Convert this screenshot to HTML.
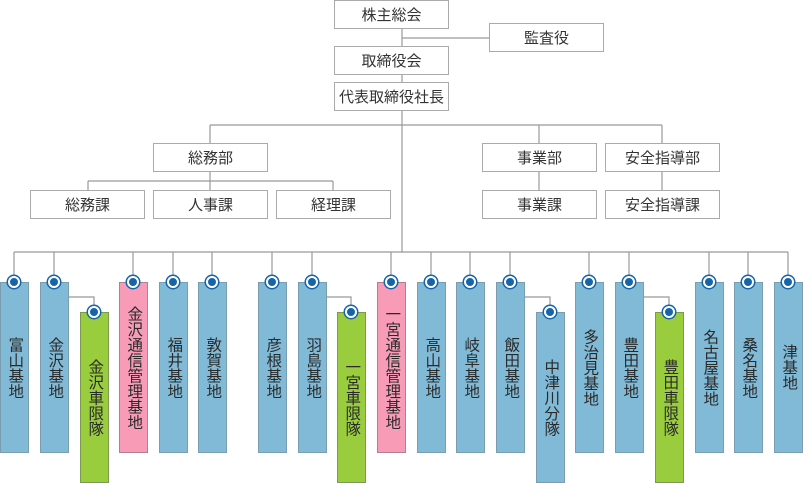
<!DOCTYPE html>
<html><head><meta charset="utf-8"><style>
body{margin:0;width:803px;height:483px;background:#fff;position:relative;overflow:hidden;font-family:"Liberation Sans","Noto Sans CJK JP",sans-serif;color:#333}
.b{position:absolute;box-sizing:border-box;border:1px solid #aaa;background:#fff;height:29px;width:115px;font-size:15px;display:flex;align-items:center;justify-content:center}
.v{position:absolute;box-sizing:border-box;width:29px;height:171px;border:1px solid #7a9db0;display:flex;align-items:center;justify-content:center;font-size:15.5px;writing-mode:vertical-rl;color:#2a2a2a;line-height:1}
.bl{background:#80bad7}.pk{background:#f79bb7;border-color:#b08090}.gr{background:#9acd3e;border-color:#7a9a50}
.c{position:absolute;width:8px;height:8px;border-radius:50%;background:#1565a8;border:2px solid #fff;box-shadow:0 0 0 1.5px #1565a8}
svg{position:absolute;left:0;top:0}
</style></head><body>
<svg width="803" height="483"><g stroke="#999" stroke-width="1.2" fill="none">
<path d="M402 28V46M402 38H489M402 75V82M402 111V252M210 125H662M210 125V143M539 125V143M662 125V143M210 172V181M88 181H333M88 181V190M210 181V190M333 181V190M539 172V190M662 172V190M14 252H788"/>
<path d="M14 252V282M54 252V282M133 252V282M173 252V282M212 252V282M272 252V282M312 252V282M391 252V282M431 252V282M470 252V282M510 252V282M589 252V282M629 252V282M709 252V282M748 252V282M788 252V282"/>
<path d="M68 297H94V312M326 297H351V312M524 297H550V312M643 297H669V312"/>
</g></svg>
<div class="b" style="left:334px;top:0">株主総会</div>
<div class="b" style="left:489px;top:23px">監査役</div>
<div class="b" style="left:334px;top:46px">取締役会</div>
<div class="b" style="left:334px;top:82px">代表取締役社長</div>
<div class="b" style="left:153px;top:143px">総務部</div>
<div class="b" style="left:482px;top:143px">事業部</div>
<div class="b" style="left:605px;top:143px">安全指導部</div>
<div class="b" style="left:30px;top:190px">総務課</div>
<div class="b" style="left:153px;top:190px">人事課</div>
<div class="b" style="left:276px;top:190px">経理課</div>
<div class="b" style="left:482px;top:190px">事業課</div>
<div class="b" style="left:605px;top:190px">安全指導課</div>

<div class="v bl" style="left:0;top:282px">富山基地</div>
<div class="v bl" style="left:40px;top:282px">金沢基地</div>
<div class="v gr" style="left:80px;top:312px">金沢車限隊</div>
<div class="v pk" style="left:119px;top:282px">金沢通信管理基地</div>
<div class="v bl" style="left:159px;top:282px">福井基地</div>
<div class="v bl" style="left:198px;top:282px">敦賀基地</div>
<div class="v bl" style="left:258px;top:282px">彦根基地</div>
<div class="v bl" style="left:298px;top:282px">羽島基地</div>
<div class="v gr" style="left:337px;top:312px">一宮車限隊</div>
<div class="v pk" style="left:377px;top:282px">一宮通信管理基地</div>
<div class="v bl" style="left:417px;top:282px">高山基地</div>
<div class="v bl" style="left:456px;top:282px">岐阜基地</div>
<div class="v bl" style="left:496px;top:282px">飯田基地</div>
<div class="v bl" style="left:536px;top:312px">中津川分隊</div>
<div class="v bl" style="left:575px;top:282px">多治見基地</div>
<div class="v bl" style="left:615px;top:282px">豊田基地</div>
<div class="v gr" style="left:655px;top:312px">豊田車限隊</div>
<div class="v bl" style="left:695px;top:282px">名古屋基地</div>
<div class="v bl" style="left:734px;top:282px">桑名基地</div>
<div class="v bl" style="left:774px;top:282px">津基地</div>

<div class="c" style="left:8px;top:276px"></div>
<div class="c" style="left:48px;top:276px"></div>
<div class="c" style="left:88px;top:306px"></div>
<div class="c" style="left:127px;top:276px"></div>
<div class="c" style="left:167px;top:276px"></div>
<div class="c" style="left:206px;top:276px"></div>
<div class="c" style="left:266px;top:276px"></div>
<div class="c" style="left:306px;top:276px"></div>
<div class="c" style="left:345px;top:306px"></div>
<div class="c" style="left:385px;top:276px"></div>
<div class="c" style="left:425px;top:276px"></div>
<div class="c" style="left:464px;top:276px"></div>
<div class="c" style="left:504px;top:276px"></div>
<div class="c" style="left:544px;top:306px"></div>
<div class="c" style="left:583px;top:276px"></div>
<div class="c" style="left:623px;top:276px"></div>
<div class="c" style="left:663px;top:306px"></div>
<div class="c" style="left:703px;top:276px"></div>
<div class="c" style="left:742px;top:276px"></div>
<div class="c" style="left:782px;top:276px"></div>
</body></html>
